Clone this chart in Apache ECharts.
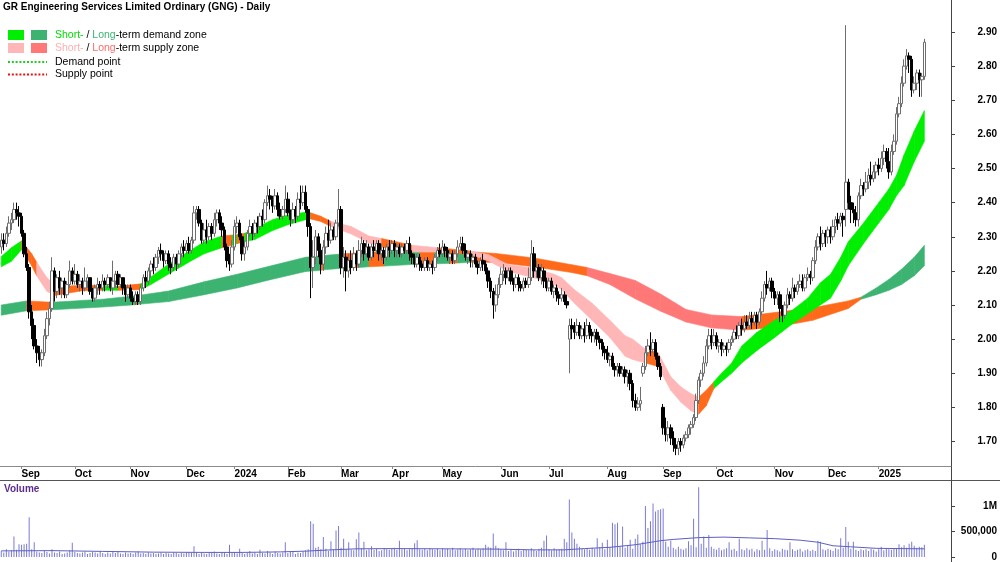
<!DOCTYPE html>
<html>
<head>
<meta charset="utf-8">
<script src="https://cdn.jsdelivr.net/npm/echarts@6/dist/echarts.min.js"></script>
<style>html,body{margin:0;padding:0;background:#fff;}#c{width:1000px;height:562px;}</style>
</head>
<body>
<div id="c"></div>
<script>
// ---- Month ticks (bar index of first trading day) ----
const monthStart = [8, 29, 51, 73, 92, 113, 134, 154, 174, 197, 216, 239, 261, 282, 305, 326, 346];
const monthLabels = ['Sep','Oct','Nov','Dec','2024','Feb','Mar','Apr','May','Jun','Jul','Aug','Sep','Oct','Nov','Dec','2025'];
const priceTicks = [1.70,1.80,1.90,2.00,2.10,2.20,2.30,2.40,2.50,2.60,2.70,2.80,2.90];
const volumeTicks = [0, 500, 1000];
const volumeTickLabels = ['0', '500,000', '1M'];

// ---- Daily candles [open, close, low, high] ----
const ohlc = [
// Aug 2023 (partial)
[2.27,2.29,2.25,2.31],[2.29,2.28,2.26,2.31],[2.28,2.31,2.27,2.33],[2.31,2.34,2.30,2.36],[2.34,2.35,2.32,2.37],[2.35,2.38,2.34,2.40],[2.38,2.37,2.35,2.40],[2.37,2.36,2.33,2.39],
// Sep 2023
[2.36,2.31,2.30,2.37],[2.31,2.25,2.24,2.32],[2.25,2.21,2.20,2.27],[2.21,2.08,2.06,2.22],[2.08,2.04,2.00,2.10],[2.04,1.98,1.97,2.06],[1.98,1.96,1.93,2.00],[1.96,1.94,1.92,1.98],[1.94,1.96,1.92,1.97],[1.96,2.01,1.95,2.03],[2.01,2.06,2.00,2.08],[2.06,2.09,2.04,2.11],[2.09,2.20,2.08,2.24],[2.20,2.14,2.11,2.21],[2.14,2.18,2.12,2.19],[2.18,2.15,2.13,2.20],[2.15,2.17,2.12,2.18],[2.17,2.13,2.12,2.18],[2.13,2.16,2.12,2.17],[2.16,2.20,2.15,2.23],[2.20,2.17,2.16,2.21],
// Oct 2023
[2.17,2.19,2.16,2.22],[2.19,2.16,2.15,2.20],[2.16,2.17,2.14,2.19],[2.17,2.15,2.13,2.18],[2.15,2.17,2.14,2.21],[2.17,2.18,2.15,2.19],[2.18,2.14,2.13,2.18],[2.14,2.12,2.11,2.15],[2.12,2.15,2.11,2.16],[2.15,2.16,2.13,2.18],[2.16,2.15,2.13,2.17],[2.15,2.17,2.14,2.19],[2.17,2.16,2.14,2.18],[2.16,2.18,2.15,2.19],[2.18,2.15,2.14,2.18],[2.15,2.17,2.13,2.23],[2.17,2.19,2.15,2.20],[2.19,2.16,2.15,2.20],[2.16,2.18,2.15,2.19],[2.18,2.15,2.13,2.18],[2.15,2.13,2.11,2.16],[2.13,2.15,2.12,2.16],
// Nov 2023
[2.15,2.12,2.11,2.16],[2.12,2.11,2.10,2.14],[2.11,2.13,2.10,2.14],[2.13,2.11,2.10,2.14],[2.11,2.15,2.10,2.16],[2.15,2.18,2.14,2.19],[2.18,2.17,2.15,2.20],[2.17,2.20,2.16,2.21],[2.20,2.22,2.18,2.23],[2.22,2.21,2.19,2.24],[2.21,2.24,2.20,2.25],[2.24,2.26,2.22,2.27],[2.26,2.25,2.23,2.28],[2.25,2.23,2.21,2.26],[2.23,2.25,2.22,2.26],[2.25,2.22,2.20,2.26],[2.22,2.21,2.19,2.24],[2.21,2.24,2.20,2.25],[2.24,2.22,2.20,2.25],[2.22,2.25,2.21,2.26],[2.25,2.27,2.24,2.28],[2.27,2.26,2.24,2.29],
// Dec 2023
[2.26,2.28,2.25,2.29],[2.28,2.26,2.25,2.30],[2.26,2.29,2.25,2.30],[2.29,2.37,2.28,2.39],[2.37,2.38,2.35,2.39],[2.38,2.34,2.33,2.39],[2.34,2.29,2.28,2.35],[2.29,2.32,2.28,2.34],[2.32,2.30,2.28,2.35],[2.30,2.33,2.29,2.34],[2.33,2.31,2.29,2.34],[2.31,2.35,2.30,2.37],[2.35,2.37,2.33,2.38],[2.37,2.34,2.32,2.38],[2.34,2.32,2.30,2.36],[2.32,2.27,2.26,2.33],[2.27,2.23,2.21,2.28],[2.23,2.22,2.20,2.25],[2.22,2.27,2.21,2.29],
// Jan 2024
[2.27,2.33,2.26,2.35],[2.33,2.34,2.31,2.36],[2.34,2.30,2.29,2.35],[2.30,2.25,2.23,2.31],[2.25,2.27,2.23,2.29],[2.27,2.31,2.26,2.32],[2.31,2.33,2.30,2.35],[2.33,2.31,2.29,2.34],[2.31,2.34,2.30,2.35],[2.34,2.33,2.31,2.36],[2.33,2.36,2.32,2.37],[2.36,2.35,2.33,2.38],[2.35,2.40,2.34,2.41],[2.40,2.42,2.39,2.45],[2.42,2.41,2.38,2.44],[2.41,2.39,2.37,2.42],[2.39,2.42,2.38,2.44],[2.42,2.38,2.36,2.43],[2.38,2.36,2.35,2.40],[2.36,2.38,2.35,2.39],[2.38,2.41,2.37,2.45],
// Feb 2024
[2.41,2.37,2.36,2.43],[2.37,2.35,2.33,2.38],[2.35,2.38,2.34,2.40],[2.38,2.36,2.34,2.39],[2.36,2.41,2.35,2.43],[2.41,2.40,2.38,2.45],[2.40,2.43,2.39,2.45],[2.43,2.38,2.37,2.45],[2.38,2.33,2.30,2.39],[2.33,2.21,2.12,2.34],[2.21,2.24,2.15,2.29],[2.24,2.30,2.22,2.32],[2.30,2.26,2.24,2.31],[2.26,2.22,2.19,2.28],[2.22,2.27,2.20,2.29],[2.27,2.31,2.25,2.33],[2.31,2.29,2.27,2.35],[2.29,2.32,2.28,2.34],[2.32,2.30,2.29,2.33],[2.30,2.34,2.29,2.35],[2.34,2.38,2.33,2.44],
// Mar 2024
[2.38,2.21,2.19,2.39],[2.21,2.24,2.18,2.27],[2.24,2.20,2.14,2.26],[2.20,2.23,2.18,2.25],[2.23,2.21,2.19,2.26],[2.21,2.25,2.20,2.27],[2.25,2.22,2.20,2.26],[2.22,2.26,2.21,2.29],[2.26,2.28,2.24,2.30],[2.28,2.25,2.23,2.29],[2.25,2.27,2.24,2.29],[2.27,2.24,2.23,2.28],[2.24,2.27,2.23,2.28],[2.27,2.26,2.24,2.29],[2.26,2.28,2.25,2.29],[2.28,2.25,2.23,2.29],[2.25,2.26,2.23,2.28],[2.26,2.24,2.22,2.27],[2.24,2.27,2.23,2.28],[2.27,2.26,2.24,2.29],
// Apr 2024
[2.26,2.28,2.25,2.29],[2.28,2.26,2.24,2.29],[2.26,2.27,2.24,2.28],[2.27,2.25,2.24,2.28],[2.25,2.27,2.24,2.28],[2.27,2.26,2.25,2.28],[2.26,2.28,2.25,2.29],[2.28,2.25,2.23,2.30],[2.25,2.24,2.22,2.26],[2.24,2.22,2.21,2.25],[2.22,2.24,2.21,2.25],[2.24,2.22,2.20,2.25],[2.22,2.21,2.20,2.23],[2.21,2.23,2.20,2.24],[2.23,2.21,2.20,2.24],[2.21,2.22,2.20,2.23],[2.22,2.21,2.19,2.23],[2.21,2.24,2.20,2.25],[2.24,2.26,2.23,2.27],[2.26,2.25,2.24,2.28],
// May 2024
[2.25,2.27,2.24,2.29],[2.27,2.26,2.24,2.28],[2.26,2.24,2.23,2.27],[2.24,2.25,2.22,2.26],[2.25,2.23,2.22,2.26],[2.23,2.25,2.22,2.26],[2.25,2.27,2.24,2.29],[2.27,2.28,2.26,2.30],[2.28,2.26,2.25,2.30],[2.26,2.24,2.23,2.28],[2.24,2.25,2.22,2.26],[2.25,2.23,2.21,2.26],[2.23,2.24,2.21,2.25],[2.24,2.22,2.21,2.25],[2.22,2.21,2.19,2.23],[2.21,2.23,2.20,2.24],[2.23,2.22,2.20,2.25],[2.22,2.20,2.19,2.23],[2.20,2.17,2.15,2.21],[2.17,2.14,2.12,2.18],[2.14,2.10,2.06,2.15],[2.10,2.13,2.08,2.16],[2.13,2.16,2.12,2.18],
// Jun 2024
[2.16,2.19,2.15,2.21],[2.19,2.20,2.17,2.22],[2.20,2.18,2.16,2.21],[2.18,2.20,2.17,2.21],[2.20,2.17,2.16,2.21],[2.17,2.16,2.14,2.18],[2.16,2.18,2.15,2.19],[2.18,2.16,2.14,2.19],[2.16,2.15,2.14,2.17],[2.15,2.17,2.14,2.18],[2.17,2.16,2.15,2.18],[2.16,2.18,2.15,2.21],[2.18,2.25,2.17,2.29],[2.25,2.20,2.18,2.27],[2.20,2.21,2.18,2.23],[2.21,2.18,2.17,2.22],[2.18,2.20,2.16,2.22],[2.20,2.17,2.15,2.21],[2.17,2.15,2.14,2.18],
// Jul 2024
[2.15,2.17,2.14,2.18],[2.17,2.14,2.13,2.18],[2.14,2.15,2.12,2.16],[2.15,2.13,2.11,2.16],[2.13,2.12,2.10,2.14],[2.12,2.13,2.11,2.15],[2.13,2.11,2.10,2.14],[2.11,2.10,2.09,2.13],[2.00,2.04,1.90,2.06],[2.04,2.03,2.00,2.06],[2.03,2.02,2.00,2.05],[2.02,2.04,2.01,2.06],[2.04,2.01,2.00,2.05],[2.01,2.03,2.00,2.04],[2.03,2.01,1.99,2.05],[2.01,2.04,2.00,2.06],[2.04,2.02,2.00,2.05],[2.02,2.01,1.99,2.03],[2.01,2.02,1.99,2.03],[2.02,2.00,1.98,2.03],[2.00,1.99,1.97,2.01],[1.99,1.97,1.95,2.00],[1.97,1.96,1.94,1.98],
// Aug 2024
[1.96,1.94,1.93,1.98],[1.94,1.95,1.92,1.96],[1.95,1.92,1.91,1.96],[1.92,1.91,1.89,1.93],[1.91,1.92,1.89,1.93],[1.92,1.90,1.89,1.93],[1.90,1.91,1.89,1.92],[1.91,1.89,1.87,1.92],[1.89,1.90,1.86,1.91],[1.90,1.87,1.85,1.91],[1.87,1.82,1.80,1.88],[1.82,1.80,1.79,1.84],[1.80,1.81,1.79,1.83],[1.81,1.82,1.79,1.86],[1.90,1.92,1.89,1.93],[1.92,1.96,1.91,1.98],[1.96,1.98,1.95,2.00],[1.98,1.97,1.95,2.02],[1.97,1.99,1.96,2.00],[1.99,1.95,1.94,2.00],[1.95,1.92,1.91,1.96],[1.92,1.89,1.88,1.93],
// Sep 2024
[1.80,1.74,1.72,1.81],[1.74,1.72,1.70,1.77],[1.72,1.74,1.70,1.76],[1.74,1.71,1.69,1.75],[1.71,1.69,1.67,1.73],[1.69,1.68,1.66,1.71],[1.68,1.70,1.66,1.71],[1.70,1.69,1.67,1.71],[1.69,1.71,1.68,1.72],[1.71,1.72,1.70,1.73],[1.72,1.74,1.71,1.75],[1.74,1.75,1.72,1.76],[1.75,1.77,1.74,1.78],[1.77,1.82,1.76,1.84],[1.82,1.88,1.81,1.89],[1.88,1.90,1.86,1.91],[1.90,1.93,1.89,1.95],[1.93,1.98,1.92,2.00],[1.98,2.01,1.97,2.03],[2.01,1.99,1.97,2.03],[1.99,2.01,1.98,2.03],
// Oct 2024
[2.01,1.98,1.97,2.02],[1.98,1.99,1.96,2.00],[1.99,1.97,1.95,2.00],[1.97,1.98,1.96,1.99],[1.98,1.97,1.95,1.99],[1.97,1.99,1.96,2.00],[1.99,2.00,1.98,2.01],[2.00,2.02,1.99,2.03],[2.02,2.01,2.00,2.04],[2.01,2.04,2.00,2.05],[2.04,2.03,2.01,2.06],[2.03,2.05,2.02,2.07],[2.05,2.04,2.03,2.07],[2.04,2.06,2.03,2.08],[2.06,2.05,2.03,2.08],[2.05,2.07,2.04,2.08],[2.07,2.05,2.03,2.08],[2.05,2.08,2.04,2.09],[2.08,2.12,2.07,2.14],[2.12,2.16,2.11,2.17],[2.16,2.15,2.13,2.20],[2.15,2.17,2.14,2.18],[2.17,2.14,2.12,2.18],
// Nov 2024
[2.14,2.12,2.10,2.15],[2.12,2.13,2.10,2.14],[2.13,2.09,2.05,2.14],[2.09,2.07,2.05,2.10],[2.07,2.10,2.06,2.11],[2.10,2.13,2.09,2.15],[2.13,2.12,2.10,2.14],[2.12,2.15,2.11,2.18],[2.15,2.14,2.12,2.16],[2.14,2.16,2.13,2.17],[2.16,2.17,2.15,2.19],[2.17,2.15,2.14,2.19],[2.15,2.18,2.14,2.19],[2.18,2.19,2.17,2.21],[2.19,2.18,2.16,2.20],[2.18,2.23,2.17,2.24],[2.23,2.27,2.22,2.29],[2.27,2.30,2.26,2.31],[2.30,2.28,2.26,2.33],[2.28,2.31,2.27,2.32],[2.31,2.30,2.27,2.32],
// Dec 2024
[2.30,2.32,2.28,2.33],[2.32,2.30,2.28,2.33],[2.30,2.33,2.29,2.35],[2.33,2.35,2.31,2.36],[2.35,2.34,2.32,2.37],[2.34,2.36,2.33,2.37],[2.36,2.35,2.30,2.37],[2.38,2.46,2.33,2.92],[2.46,2.40,2.38,2.47],[2.40,2.38,2.34,2.42],[2.38,2.37,2.34,2.40],[2.37,2.35,2.33,2.39],[2.35,2.42,2.33,2.43],[2.42,2.45,2.41,2.47],[2.45,2.44,2.42,2.46],[2.44,2.46,2.43,2.49],[2.46,2.48,2.44,2.50],[2.48,2.47,2.45,2.52],[2.47,2.49,2.46,2.51],[2.49,2.51,2.47,2.52],
// Jan 2025
[2.51,2.50,2.48,2.53],[2.50,2.53,2.49,2.55],[2.53,2.55,2.51,2.57],[2.55,2.52,2.50,2.56],[2.52,2.49,2.47,2.56],[2.49,2.55,2.48,2.57],[2.55,2.58,2.54,2.60],[2.58,2.66,2.57,2.68],[2.66,2.69,2.65,2.71],[2.69,2.75,2.68,2.77],[2.75,2.80,2.74,2.82],[2.80,2.83,2.79,2.85],[2.83,2.82,2.78,2.84],[2.82,2.73,2.71,2.83],[2.73,2.75,2.72,2.77],[2.75,2.78,2.73,2.79],[2.78,2.76,2.71,2.79],[2.76,2.77,2.71,2.78],[2.77,2.87,2.76,2.88]
];

// ---- Daily volume (thousands of shares) ----
const volume = [
120,90,150,110,130,400,140,250,240,250,
260,780,150,290,110,90,80,120,100,70,
150,90,80,110,60,70,90,130,280,100,
80,70,90,110,60,80,100,90,70,110,
80,60,90,70,100,80,120,70,60,90,
70,80,60,90,110,70,80,60,90,70,
80,60,70,90,60,80,70,60,90,80,
60,80,70,90,100,80,210,90,60,80,
70,60,80,90,110,70,60,80,90,60,
240,80,100,70,160,90,60,80,120,70,
90,60,140,80,70,120,90,60,110,80,
70,90,290,80,100,120,60,90,80,110,
130,150,700,650,180,200,150,390,160,120,
310,140,520,610,180,360,150,290,140,130,
350,480,170,300,130,150,210,140,160,120,
130,170,150,140,160,180,140,320,150,160,
130,150,170,270,330,150,140,160,130,170,
150,140,160,130,170,150,160,140,180,130,
150,170,140,160,130,150,180,140,160,150,
170,240,200,180,460,220,170,150,130,290,
120,140,110,130,160,120,150,140,130,170,
140,120,160,180,320,420,150,130,170,140,
150,160,360,290,1130,480,360,260,200,160,
150,170,140,180,160,370,190,280,150,340,
190,670,640,670,210,600,180,220,340,160,
360,440,250,300,1000,570,700,1050,890,920,
935,950,300,200,320,180,150,200,160,140,
170,310,230,750,190,1370,260,400,180,430,
200,160,140,180,130,150,170,290,140,160,
120,360,150,130,170,140,160,110,150,130,
320,140,530,170,120,150,130,110,160,140,
130,290,150,120,140,160,110,130,150,120,
140,120,320,300,150,130,160,140,120,170,
150,370,180,590,300,160,300,140,120,150,
130,150,120,160,140,110,150,200,130,160,
150,140,170,160,250,190,230,180,260,300,
220,180,200,190,240
];

// ---- Volume average line, read at knots [bar index, thousands] ----
const volAvgIdx = [0,20,40,60,80,95,110,120,130,140,155,175,195,210,222,230,240,250,260,265,275,285,295,305,315,322,328,335,345,364];
const volAvgVal = [120,125,110,95,90,90,100,115,140,160,165,160,155,140,140,165,190,240,320,345,380,390,375,360,330,290,220,200,170,160];

// ---- Short-term zone edges at knots (g = demand, o = mixed, p = supply) ----
const stIdx = [0,4,8,12,14,18,21,25,32,40,46,55,59,67,75,80,87,91,93,96,100,107,113,120,122,126,130,138,145,150,162,172,185,192,200,210,218,221,226,233,240,246,249,254,259,264,268,272,275,278,281,284,288,292,298,305,312,318,323,327,331,334,340,346,350,353,356,360,364];
const stLo  = [2.212,2.228,2.262,2.215,2.185,2.140,2.128,2.133,2.142,2.143,2.143,2.145,2.160,2.195,2.230,2.250,2.268,2.275,2.280,2.285,2.292,2.318,2.335,2.350,2.352,2.345,2.330,2.308,2.282,2.270,2.255,2.255,2.248,2.230,2.198,2.180,2.160,2.145,2.105,2.055,2.005,1.950,1.940,1.930,1.920,1.850,1.815,1.790,1.780,1.805,1.855,1.875,1.900,1.930,1.967,2.005,2.045,2.075,2.100,2.120,2.170,2.215,2.280,2.340,2.380,2.420,2.450,2.520,2.580];
const stHi  = [2.242,2.268,2.288,2.250,2.225,2.180,2.160,2.155,2.158,2.157,2.155,2.162,2.182,2.225,2.262,2.285,2.302,2.305,2.306,2.310,2.325,2.350,2.364,2.372,2.370,2.360,2.345,2.330,2.302,2.295,2.275,2.268,2.258,2.248,2.218,2.208,2.190,2.180,2.145,2.105,2.055,2.010,2.000,1.970,1.960,1.890,1.860,1.840,1.830,1.850,1.875,1.900,1.930,1.980,2.020,2.055,2.085,2.120,2.165,2.190,2.240,2.285,2.340,2.400,2.440,2.480,2.540,2.610,2.670];
const stCol = ['g','g','o','o','p','p','o','o','o','g','o','g','g','g','g','g','o','g','o','g','g','g','g','g','o','o','p','p','p','o','p','o','p','p','p','p','p','p','p','p','p','p','p','o','p','p','p','p','o','o','g','g','g','g','g','g','g','g','g','g','g','g','g','g','g','g','g','g','g'];

// ---- Long-term zone edges at knots ----
const ltIdx = [0,10,20,40,53,54,66,80,93,106,120,126,127,135,141,145,151,165,171,177,180,185,195,210,225,231,240,250,260,270,280,292,305,320,334,339,345,350,355,360,364];
const ltLo  = [2.070,2.083,2.086,2.094,2.101,2.102,2.110,2.130,2.150,2.174,2.198,2.202,2.203,2.208,2.210,2.212,2.214,2.220,2.221,2.222,2.223,2.225,2.225,2.212,2.195,2.186,2.160,2.118,2.082,2.050,2.033,2.026,2.035,2.055,2.090,2.117,2.130,2.143,2.160,2.186,2.215];
const ltHi  = [2.100,2.112,2.108,2.117,2.127,2.128,2.141,2.168,2.190,2.214,2.240,2.244,2.245,2.250,2.253,2.255,2.257,2.261,2.261,2.259,2.258,2.256,2.251,2.238,2.218,2.210,2.192,2.172,2.132,2.087,2.071,2.066,2.078,2.092,2.112,2.123,2.150,2.175,2.205,2.240,2.275];
const ltCol = ['g','o','g','g','o','g','g','g','g','g','g','o','g','o','g','o','g','o','g','o','g','o','o','o','o','p','p','p','p','p','p','o','o','o','o','g','g','g','g','g','g'];

// ---- Styles ----
const FONT = '"Liberation Sans", Arial, sans-serif';
const stColors = { g: '#00ee00', o: '#ff6a1a', p: '#ffb6b6' };
const ltColors = { g: '#3cb371', o: '#ff6a1a', p: '#ff7878' };
const NCAT = 375;

const cats = [];
for (let i = 0; i < NCAT; i++) cats.push(String(i));
const startSet = new Set(monthStart);
const labelOf = {};
monthStart.forEach((s, k) => { labelOf[s] = monthLabels[k]; });

function zoneSegments(idx, lo, hi, col) {
  const out = [];
  for (let k = 0; k < idx.length - 1; k++) {
    out.push([idx[k], lo[k], hi[k], idx[k + 1], lo[k + 1], hi[k + 1], col[k]]);
  }
  return out;
}
function zoneSeries(name, segs, palette) {
  return {
    type: 'custom', name: name, xAxisIndex: 0, yAxisIndex: 0, z: 1, silent: true,
    data: segs.map(s => s.slice(0, 6)),
    encode: { x: [0, 3], y: [1, 2, 4, 5] },
    renderItem: function (params, api) {
      const seg = segs[params.dataIndex];
      const c = palette[seg[6]];
      const pts = [
        api.coord([api.value(0), api.value(1)]),
        api.coord([api.value(3), api.value(4)]),
        api.coord([api.value(3), api.value(5)]),
        api.coord([api.value(0), api.value(2)])
      ];
      return { type: 'polygon', shape: { points: pts }, style: { fill: c, stroke: c, lineWidth: 0.6 } };
    }
  };
}

const chart = echarts.init(document.getElementById('c'), null, { renderer: 'canvas' });
const axisLabelStyle = { color: '#000', fontFamily: FONT, fontSize: 10, fontWeight: 'bold' };

chart.setOption({
  animation: false,
  backgroundColor: '#fff',
  textStyle: { fontFamily: FONT },
  grid: [
    { left: -1, right: 49, top: 0, height: 466 },
    { left: -1, right: 49, top: 480, height: 79 }
  ],
  xAxis: [
    {
      type: 'category', gridIndex: 0, data: cats, boundaryGap: true,
      axisLine: { show: true, lineStyle: { color: '#8a8a8a', width: 1 } },
      axisTick: { show: true, alignWithLabel: true, length: 3, interval: (i) => startSet.has(i), lineStyle: { color: '#8a8a8a' } },
      axisLabel: Object.assign({ interval: (i) => startSet.has(i), formatter: (v, i) => labelOf[Number(v)] || '', align: 'left', margin: 3 }, axisLabelStyle),
      splitLine: { show: false }
    },
    {
      type: 'category', gridIndex: 1, data: cats, boundaryGap: true, show: false
    }
  ],
  yAxis: [
    {
      type: 'value', gridIndex: 0, position: 'right', min: 1.6282, max: 2.9938, scale: true,
      axisLine: { show: true, lineStyle: { color: '#444' } },
      axisTick: { show: true, length: 4, customValues: priceTicks, lineStyle: { color: '#444' } },
      axisLabel: Object.assign({ customValues: priceTicks, formatter: (v) => Number(v).toFixed(2), align: 'right', margin: 46 }, axisLabelStyle),
      splitLine: { show: false }
    },
    {
      type: 'value', gridIndex: 1, position: 'right', min: 0, max: 1510,
      axisLine: { show: true, lineStyle: { color: '#444' } },
      axisTick: { show: true, length: 4, customValues: volumeTicks, lineStyle: { color: '#444' } },
      axisLabel: Object.assign({ customValues: volumeTicks, formatter: (v) => volumeTickLabels[volumeTicks.indexOf(Number(v))] || '', align: 'right', margin: 46 }, axisLabelStyle),
      splitLine: { show: false }
    }
  ],
  series: [
    zoneSeries('Long-term zone', zoneSegments(ltIdx, ltLo, ltHi, ltCol), ltColors),
    zoneSeries('Short-term zone', zoneSegments(stIdx, stLo, stHi, stCol), stColors),
    {
      type: 'candlestick', name: 'GNG', xAxisIndex: 0, yAxisIndex: 0, z: 3,
      data: ohlc, barWidth: 3,
      itemStyle: { color: '#ffffff', color0: '#000000', borderColor: '#6e6e6e', borderColor0: '#000000', borderWidth: 1 }
    },
    {
      type: 'bar', name: 'Volume', xAxisIndex: 1, yAxisIndex: 1,
      data: volume, barWidth: 1, itemStyle: { color: '#7a7ad6' }
    },
    {
      type: 'line', name: 'Volume average', xAxisIndex: 1, yAxisIndex: 1,
      data: volAvgIdx.map((i, k) => [i, volAvgVal[k]]), showSymbol: false, symbol: 'none',
      lineStyle: { color: '#5e5ec0', width: 1 }, z: 4
    }
  ],
  graphic: [
    { type: 'text', left: 3, top: 2, style: { text: 'GR Engineering Services Limited Ordinary (GNG) - Daily', font: 'bold 10px ' + FONT, fill: '#000' } },
    { type: 'rect', shape: { x: 8, y: 30, width: 16, height: 10 }, style: { fill: stColors.g } },
    { type: 'rect', shape: { x: 31, y: 30, width: 16, height: 10 }, style: { fill: ltColors.g } },
    { type: 'rect', shape: { x: 8, y: 43, width: 16, height: 10 }, style: { fill: stColors.p } },
    { type: 'rect', shape: { x: 31, y: 43, width: 16, height: 10 }, style: { fill: ltColors.p } },
    { type: 'line', shape: { x1: 8, y1: 62, x2: 47, y2: 62 }, style: { stroke: '#22cc22', lineWidth: 2, lineDash: [2, 1.8] } },
    { type: 'line', shape: { x1: 8, y1: 74.5, x2: 47, y2: 74.5 }, style: { stroke: '#ee1111', lineWidth: 2, lineDash: [2, 1.8] } },
    { type: 'text', x: 55, y: 35, style: { text: '{a|Short-} / {b|Long}-term demand zone', font: '10.5px ' + FONT, fill: '#000', verticalAlign: 'middle',
        rich: { a: { fill: '#00dd00', font: '10.5px ' + FONT }, b: { fill: '#3cb371', font: '10.5px ' + FONT } } } },
    { type: 'text', x: 55, y: 48, style: { text: '{a|Short-} / {b|Long}-term supply zone', font: '10.5px ' + FONT, fill: '#000', verticalAlign: 'middle',
        rich: { a: { fill: '#ffb0b0', font: '10.5px ' + FONT }, b: { fill: '#ff6b6b', font: '10.5px ' + FONT } } } },
    { type: 'text', x: 55, y: 62, style: { text: 'Demand point', font: '10.5px ' + FONT, fill: '#000', verticalAlign: 'middle' } },
    { type: 'text', x: 55, y: 74.5, style: { text: 'Supply point', font: '10.5px ' + FONT, fill: '#000', verticalAlign: 'middle' } },
    { type: 'line', shape: { x1: 0, y1: 480.5, x2: 1000, y2: 480.5 }, style: { stroke: '#555', lineWidth: 1 } },
    { type: 'line', shape: { x1: 951.5, y1: 0, x2: 951.5, y2: 562 }, style: { stroke: '#444', lineWidth: 1 } },
    { type: 'text', x: 4, y: 489, style: { text: 'Volume', font: 'bold 10px ' + FONT, fill: '#5b2d8e', verticalAlign: 'middle' } }
  ]
});
</script>
</body>
</html>
